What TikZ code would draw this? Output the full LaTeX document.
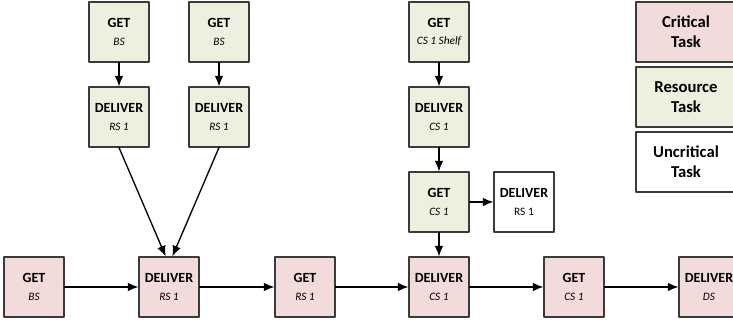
\documentclass[tikz,border=0pt]{standalone}
\usepackage{fontspec}
\setmainfont{Carlito}
\usetikzlibrary{arrows.meta}

\definecolor{critfill}{HTML}{F2DCDB}
\definecolor{resfill}{HTML}{EBF1DE}
\definecolor{boxline}{HTML}{3A3A3A}

\newcommand{\subtxt}{\fontsize{8.5}{10}\selectfont}

\begin{document}
\begin{tikzpicture}[
    x=0.75pt,
    y=-0.75pt,
    line cap=round,
    line join=round,
    task/.style={draw=boxline,line width=0.8pt,minimum width=45pt,minimum height=45pt,
        inner sep=1pt,align=center,font=\fontsize{10.5}{12}\selectfont},
    crit/.style={task,fill=critfill},
    res/.style={task,fill=resfill},
    uncrit/.style={task,fill=white},
    legend/.style={draw=boxline,line width=0.8pt,minimum width=75pt,minimum height=45pt,
        align=center,font=\fontsize{12.5}{15}\selectfont\bfseries},
    flow/.style={line width=1pt,-{Latex[length=8pt,width=6.5pt]}}
]

\useasboundingbox (0,0) rectangle (733,323);

% =========================================================
% Kritische Kette (unten)
% =========================================================

\node[crit] (cGetBS)  at (34,287)  {\textbf{GET}\\[1pt]{\subtxt\itshape BS}};
\node[crit] (cDelRS)  at (169,287) {\textbf{DELIVER}\\[1pt]{\subtxt\itshape RS 1}};
\node[crit] (cGetRS)  at (305,287) {\textbf{GET}\\[1pt]{\subtxt\itshape RS 1}};
\node[crit] (cDelCS)  at (439,287) {\textbf{DELIVER}\\[1pt]{\subtxt\itshape CS 1}};
\node[crit] (cGetCS)  at (574,287) {\textbf{GET}\\[1pt]{\subtxt\itshape CS 1}};
\node[crit] (cDelDS)  at (709,287) {\textbf{DELIVER}\\[1pt]{\subtxt\itshape DS}};

% =========================================================
% Ressourcen-Aufgaben
% =========================================================

\node[res] (rGetBSa)  at (119,32)  {\textbf{GET}\\[1pt]{\subtxt\itshape BS}};
\node[res] (rGetBSb)  at (219,32)  {\textbf{GET}\\[1pt]{\subtxt\itshape BS}};
\node[res] (rDelRSa)  at (119,117) {\textbf{DELIVER}\\[1pt]{\subtxt\itshape RS 1}};
\node[res] (rDelRSb)  at (219,117) {\textbf{DELIVER}\\[1pt]{\subtxt\itshape RS 1}};

\node[res] (rGetShelf) at (439,32)  {\textbf{GET}\\[1pt]{\subtxt\itshape CS 1 Shelf}};
\node[res] (rDelCS)    at (439,117) {\textbf{DELIVER}\\[1pt]{\subtxt\itshape CS 1}};
\node[res] (rGetCS)    at (439,202) {\textbf{GET}\\[1pt]{\subtxt\itshape CS 1}};

% =========================================================
% Unkritische Aufgabe
% =========================================================

\node[uncrit] (uDelRS) at (524,202) {\textbf{DELIVER}\\[1pt]{\subtxt RS 1}};

% =========================================================
% Legende
% =========================================================

\node[legend,fill=critfill] (lgCrit)   at (686,32)  {Critical\\Task};
\node[legend,fill=resfill]  (lgRes)    at (686,97)  {Resource\\Task};
\node[legend,fill=white]    (lgUncrit) at (686,162) {Uncritical\\Task};

% =========================================================
% Pfeile
% =========================================================

\draw[flow] (cGetBS) -- (cDelRS);
\draw[flow] (cDelRS) -- (cGetRS);
\draw[flow] (cGetRS) -- (cDelCS);
\draw[flow] (cDelCS) -- (cGetCS);
\draw[flow] (cGetCS) -- (cDelDS);

\draw[flow] (rGetBSa) -- (rDelRSa);
\draw[flow] (rGetBSb) -- (rDelRSb);
\draw[flow] (rDelRSa.south) -- ([xshift=-2.5pt]cDelRS.north);
\draw[flow] (rDelRSb.south) -- ([xshift=2.5pt]cDelRS.north);

\draw[flow] (rGetShelf) -- (rDelCS);
\draw[flow] (rDelCS) -- (rGetCS);
\draw[flow] (rGetCS) -- (cDelCS);
\draw[flow] (rGetCS) -- (uDelRS);

\end{tikzpicture}
\end{document}
